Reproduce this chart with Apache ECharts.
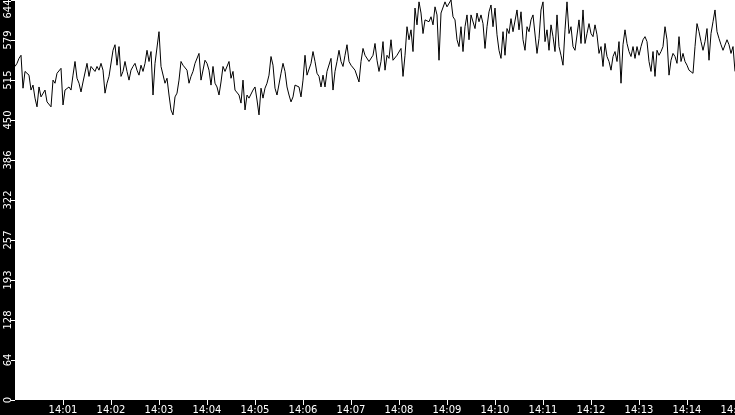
<!DOCTYPE html>
<html>
<head>
<meta charset="utf-8">
<script src="https://cdn.jsdelivr.net/npm/echarts@6/dist/echarts.min.js"></script>
<style>
html,body{margin:0;padding:0;background:#000;}
#chart{width:735px;height:415px;}
</style>
</head>
<body>
<div id="chart"></div>
<script>
// Sample spacing in seconds from 14:00:00
const sampleStepSeconds = 2.5;
// Values (one every 2.5 s, 14:00:00 → 14:15:00)
const values = [
537,542,550,555,502,529,526,523,499,507,486,472,504,488,488,499,480,483,472,515,
510,526,529,534,475,499,499,504,499,523,545,518,510,496,512,515,542,521,537,539,
529,537,531,542,531,494,510,521,523,563,572,539,569,
521,529,545,529,515,531,537,542,531,523,539,529,542,563,545,561,491,542,545,593,
537,539,510,518,491,467,459,488,494,515,545,539,542,531,510,521,529,542,539,558,
515,515,547,542,531,507,537,510,504,491,512,
537,529,529,545,518,529,499,496,491,478,515,467,491,486,483,499,504,483,459,502,
486,502,510,523,553,539,502,491,494,526,542,529,504,491,480,488,507,510,504,488,
515,555,523,521,542,561,545,526,521,504,523,
504,529,526,550,499,529,545,563,545,537,555,572,545,539,542,531,529,512,545,566,
555,553,545,542,555,574,547,529,545,577,531,555,550,580,547,545,555,558,566,521,
555,601,580,596,561,631,604,641,623,590,612,612,
609,617,604,633,620,547,623,620,641,633,636,644,617,612,580,569,601,561,601,620,
580,620,623,598,623,609,620,606,566,601,625,636,601,631,588,563,550,593,555,598,
590,614,593,590,628,596,625,580,563,601,593,
612,620,620,558,582,628,641,577,596,563,604,585,561,620,569,555,539,596,641,590,
601,569,563,561,612,574,628,574,590,606,590,585,604,588,558,569,537,574,553,545,
531,553,561,545,577,510,572,596,574,561,553,569,
550,569,555,569,580,585,577,545,529,561,521,563,555,561,569,601,580,523,547,558,
553,542,585,545,558,545,539,531,529,526,569,606,593,577,563,577,598,547,590,609,
628,593,582,572,563,561,580,572,558,569,529
];
// X tick labels (one per minute after 14:00)
const xTickLabels = ['14:01','14:02','14:03','14:04','14:05','14:06','14:07','14:08','14:09','14:10','14:11','14:12','14:13','14:14','14:15'];
const xTickSeconds = xTickLabels.map((_, i) => (i + 1) * 60);
const xMaxSeconds = 900;
// Y tick labels
const yTickLabels = ['0','64','128','193','257','322','386','450','515','579','644'];
const yMax = 644;
const yTickValues = yTickLabels.map((_, i) => i * yMax / (yTickLabels.length - 1));

const seriesData = values.map((v, i) => [i * sampleStepSeconds, v]);

const labelFont = {color: '#ffffff', fontSize: 10, fontFamily: 'DejaVu Sans'};

const chart = echarts.init(document.getElementById('chart'), null, {renderer: 'canvas'});
chart.setOption({
  animation: false,
  backgroundColor: '#000000',
  grid: {left: 15, right: 0, top: 0, bottom: 15, show: true, backgroundColor: '#ffffff', borderWidth: 0,
         containLabel: false, outerBoundsMode: 'none'},
  xAxis: {
    type: 'value', min: 0, max: xMaxSeconds,
    axisLine: {show: false},
    splitLine: {show: false},
    axisTick: {show: true, length: 5, lineStyle: {color: '#ffffff', width: 1}, customValues: xTickSeconds},
    axisLabel: Object.assign({
      margin: 5, customValues: xTickSeconds, hideOverlap: false,
      formatter: function (v) { const i = xTickSeconds.indexOf(v); return i >= 0 ? xTickLabels[i] : ''; }
    }, labelFont)
  },
  yAxis: {
    type: 'value', min: 0, max: yMax,
    axisLine: {show: false},
    splitLine: {show: false},
    axisTick: {show: true, length: 4, lineStyle: {color: '#ffffff', width: 1}, customValues: yTickValues},
    axisLabel: Object.assign({
      margin: 2, rotate: 90,
      customValues: yTickValues,
      formatter: function (v) {
        let best = 0;
        yTickValues.forEach((t, i) => { if (Math.abs(t - v) < Math.abs(yTickValues[best] - v)) best = i; });
        if (best === yTickValues.length - 1) return '{top|' + yTickLabels[best] + '}';
        return yTickLabels[best];
      },
      rich: {top: Object.assign({padding: [0, 18, 0, 0]}, labelFont)}
    }, labelFont)
  },
  series: [{
    type: 'line', data: seriesData, showSymbol: false, symbol: 'none',
    lineStyle: {color: '#000000', width: 1}, clip: false
  }]
});
</script>
</body>
</html>
